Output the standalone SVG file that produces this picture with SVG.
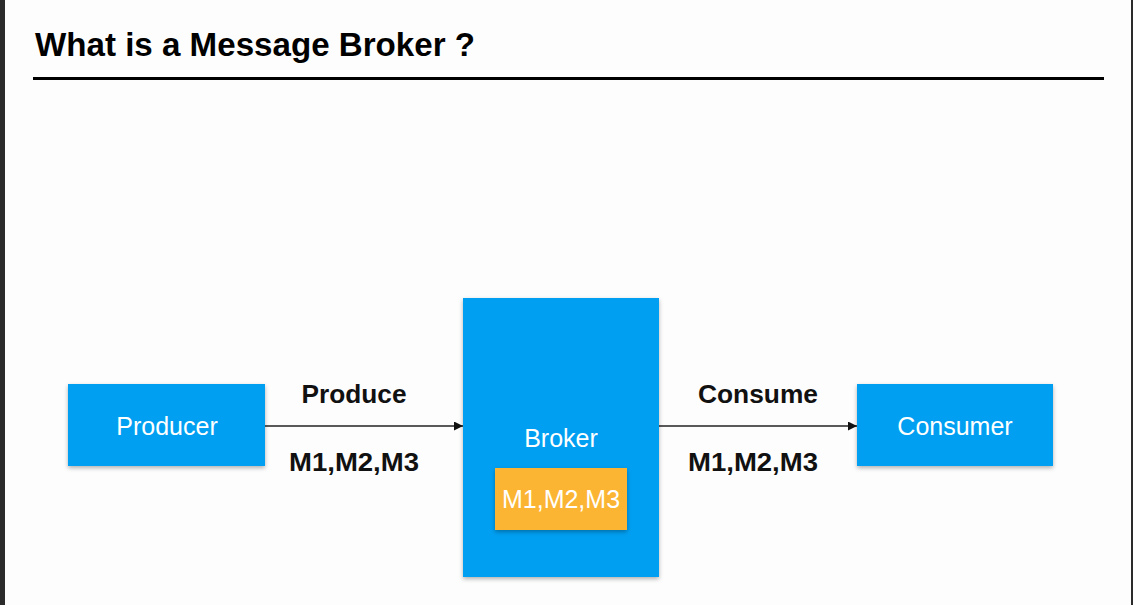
<svg xmlns="http://www.w3.org/2000/svg" width="1133" height="605" viewBox="0 0 1133 605">
<style>
.box{fill:#009ff2;filter:url(#sh)}
.msg{fill:#fbb530;filter:url(#sh)}
.wt{fill:#ffffff;font-family:"Liberation Sans",Arial,sans-serif;font-size:25px;text-anchor:middle}
.lb{fill:#111111;font-family:"Liberation Sans",Arial,sans-serif;font-size:26px;font-weight:bold;text-anchor:middle}
.conn{stroke:#222222;stroke-width:1.5;fill:none;marker-end:url(#ah)}
</style>
<defs>
<filter id="sh" x="-10%" y="-10%" width="120%" height="120%">
<feDropShadow dx="0" dy="2" stdDeviation="2" flood-color="#000" flood-opacity="0.3"/>
</filter>
<marker id="ah" viewBox="0 0 10 10" refX="10" refY="5" markerWidth="9" markerHeight="9" markerUnits="userSpaceOnUse" orient="auto">
<path d="M0,0 L10,5 L0,10 Z" fill="#111"/>
</marker>
</defs>
<rect width="1133" height="605" fill="#fdfdfd"/>
<rect x="0" y="0" width="5" height="605" fill="#2b2b2b"/>
<rect x="1131" y="0" width="2" height="605" fill="#2b2b2b"/>
<g id="title">
<text x="35" y="56" font-family="Liberation Sans,Arial,sans-serif" font-size="33" font-weight="bold" fill="#000" textLength="440" lengthAdjust="spacingAndGlyphs">What is a Message Broker ?</text>
<rect x="33" y="77" width="1071" height="3" fill="#000"/>
</g>
<g id="connectors">
<line class="conn" x1="265" y1="426" x2="463" y2="426"/>
<line class="conn" x1="659" y1="426" x2="857" y2="426"/>
<text class="lb" x="354" y="403" textLength="105" lengthAdjust="spacingAndGlyphs">Produce</text>
<text class="lb" x="354" y="471" textLength="130" lengthAdjust="spacingAndGlyphs">M1,M2,M3</text>
<text class="lb" x="758" y="403" textLength="120" lengthAdjust="spacingAndGlyphs">Consume</text>
<text class="lb" x="753" y="471" textLength="130" lengthAdjust="spacingAndGlyphs">M1,M2,M3</text>
</g>
<g id="producer">
<rect class="box" x="68" y="384" width="197" height="82"/>
<text class="wt" x="167" y="435">Producer</text>
</g>
<g id="broker">
<rect class="box" x="463" y="298" width="196" height="279"/>
<text class="wt" x="561" y="447">Broker</text>
<rect class="msg" x="495" y="468" width="132" height="62"/>
<text class="wt" x="561" y="508">M1,M2,M3</text>
</g>
<g id="consumer">
<rect class="box" x="857" y="384" width="196" height="82"/>
<text class="wt" x="955" y="435">Consumer</text>
</g>
</svg>
